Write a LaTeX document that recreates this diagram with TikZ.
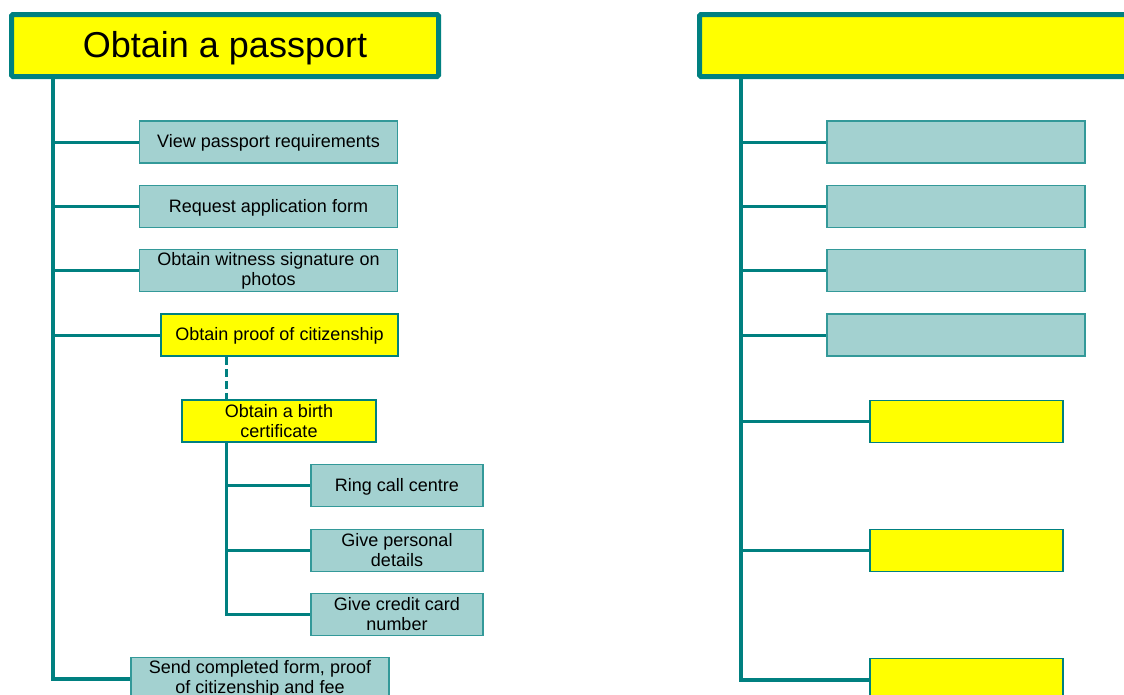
\documentclass[tikz,border=0pt]{standalone}
\usepackage{fontspec}
\setmainfont{Liberation Sans}
\usetikzlibrary{calc}

\definecolor{lineteal}{HTML}{008080}
\definecolor{taskfill}{HTML}{A3D1D0}
\definecolor{goalyellow}{HTML}{FFFF00}

\tikzset{
  goalbox/.style={draw=lineteal, line width=5pt, fill=goalyellow,
    minimum width=427pt, minimum height=62pt, inner sep=0pt,
    text height=26pt, text depth=3pt,
    rounded corners=1.5pt, font=\fontsize{36}{40}\selectfont},
  taskbox/.style={draw=lineteal!80, line width=1.2pt, fill=taskfill,
    minimum height=42pt, inner sep=0pt, align=center,
    font=\fontsize{18}{20}\selectfont},
  subgoalbox/.style={taskbox, draw=lineteal, line width=1.6pt, fill=goalyellow},
  oneline/.style={text height=13pt, text depth=1.5pt},
  trunkline/.style={draw=lineteal, line width=4pt},
  branchline/.style={draw=lineteal, line width=3pt},
  planline/.style={draw=lineteal, line width=3pt, dash pattern=on 8pt off 4pt},
}

\begin{document}
\begin{tikzpicture}[x=1pt, y=-1pt]
  \useasboundingbox (0,0) rectangle (1124,694);
  \clip (0,0) rectangle (1124,694);

  % ---- left hierarchy: obtaining a passport ----
  \node[goalbox] (title) at (225,45.5) {Obtain a passport};

  \node[taskbox, oneline, minimum width=258pt] (vb1) at (268.5,142) {View passport requirements};
  \node[taskbox, oneline, minimum width=258pt] (vb2) at (268.5,206.5) {Request application form};
  \node[taskbox, minimum width=258pt] (vb3) at (268.5,270.5) {Obtain witness signature on\\photos};
  \node[subgoalbox, oneline, minimum width=237pt] (proof) at (279.5,335) {Obtain proof of citizenship};
  \node[subgoalbox, minimum width=194pt] (birth) at (279,421) {Obtain a birth\\certificate};
  \node[taskbox, oneline, minimum width=172pt] (ring) at (397,485.5) {Ring call centre};
  \node[taskbox, minimum width=172pt] (pers) at (397,550.5) {Give personal\\details};
  \node[taskbox, minimum width=172pt] (card) at (397,614.5) {Give credit card\\number};
  \node[taskbox, minimum width=258pt] (send) at (260,678.5) {Send completed form, proof\\of citizenship and fee};

  \coordinate (ltop) at (53,77);
  \coordinate (sub) at (226,0);

  \draw[trunkline] (ltop) |- (send.west);
  \foreach \n in {vb1,vb2,vb3,proof}
    \draw[branchline] (ltop |- \n.west) -- (\n.west);

  \draw[planline] (proof.south -| sub) -- (birth.north -| sub);
  \draw[branchline] (birth.south -| sub) |- (card.west);
  \foreach \n in {ring,pers}
    \draw[branchline] (sub |- \n.west) -- (\n.west);

  % ---- right hierarchy: empty template ----
  \node[goalbox] (rtitle) at (913,45.5) {};

  \node[taskbox, minimum width=258pt] (r1) at (956,142) {};
  \node[taskbox, minimum width=258pt] (r2) at (956,206.5) {};
  \node[taskbox, minimum width=258pt] (r3) at (956,270.5) {};
  \node[taskbox, minimum width=258pt] (r4) at (956,335) {};
  \node[subgoalbox, minimum width=193pt] (ry1) at (966.5,421.5) {};
  \node[subgoalbox, minimum width=193pt] (ry2) at (966.5,550.5) {};
  \node[subgoalbox, minimum width=193pt] (ry3) at (966.5,679.5) {};

  \coordinate (rtop) at (741,77);
  \draw[trunkline] (rtop) |- (ry3.west);
  \foreach \n in {r1,r2,r3,r4,ry1,ry2}
    \draw[branchline] (rtop |- \n.west) -- (\n.west);
\end{tikzpicture}
\end{document}
